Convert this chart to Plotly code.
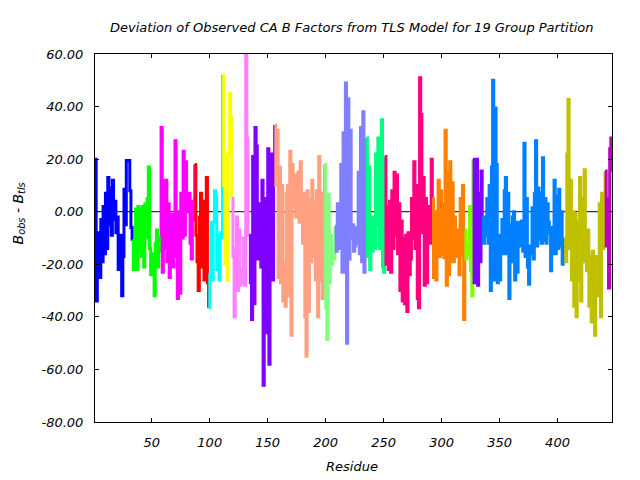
import plotly.graph_objects as go

# Group colours (19 TLS groups)
group_colors = ["#0000ff", "#00ff00", "#ff00ff", "#ff0000", "#00ffff", "#ffff00",
                "#ff80ff", "#8000ff", "#ffa080", "#80ff80", "#8080ff", "#00ff80",
                "#ff0080", "#ff8000", "#80ff00", "#8000ff", "#0080ff", "#c0c000",
                "#c000c0"]

# Deviation values per group (consecutive residues starting at 1)
g01 = [20, -34, -22, -8, -25, -3, -19, 2, -16, 7, -14, 13, -5, 9, -9, 12, -3, 4, -8, -2,
       -22, -12, -9, -32, -17, 8.5, -5, 19.5, 19.5, 19.5, 8, -6]
g02 = [-11, -22, -15, 1, -22, 2, -15, 1, -17, 2, -21, 3, -10, 5, 17, -14, -24, -18, -16,
       -32, -12, -7, -21, -15]
g03 = [-9, 32, -23, 12, -14, 12, -19, 3, -25, -1, -16, -21, -1, 27, -17, -33, 0, -31, 7,
       -10, 23, -9, 19, 7, 0, 7, -12, -18, 4, -3]
g04 = [18, -9, -19, -30, -2, 7, -21, 4, -26, -3, 13, -27]
g05 = [-36.5, -24, -4, -26, -4, 8, 6, -22, -9, -26, -8, -10]
g06 = [52, 10, -20, 22, -26, 22, 45, 36]
g07 = [5, -17, -40, -14, -2, -30, -7, -28, -22, -27, -10, -28, 60, 28, -9]
g08 = [-9, -27, -41, 21, -35, 32, 25, -18, 3, -10, -21, 12, -66, -35, 5, -46, 24, -58,
       -9, 22, -26, 20]
g09 = [33, 10, 31, -25, 17, -27, 10, -34, -20, -36, 7, 10, -32, 23, -47, 18, 2, 14, -2,
       12, 15, -4, 19, 3, -12, 7, -40, -55, 8, -38, 5, -19, 12, -17, 4, -26, 8, -40, 21,
       -26, 7, -33, 2]
g10 = [18, -36.5, -48.5, 6.6, -27, -9, -20, -16, -18]
g11 = [-5.5, -15, 3, -14, 2, 18, -23, 30, -23, 49, -50, 43, -18, 31, -10, -5, -15, -13,
       -6, -12, 15, -16, 32, -19, 38, -23, 6]
g12 = [28, -17, 17, -22, -2, -15, -2, -14, 22, -5, 28, -14, 20, 35, -21, -23]
g13 = [21, -20, 2, -22, 4, -23, 8, -14, 15, -9, 14, -16, 3, -30, -3.5, -34, -10, -35, -9,
       -38, -8, -24, -18, 5, -10, 19, -14, 10, -33, -36.5, 51, 37, -8, 13, -28, 5, -27,
       -5, 2, -12, 20]
g14 = [5, -25, 0, -26, -9, 12, -17, 8, -16, 3, -17.5, 31, -28, 15, -24, 19, -19, 11, -19,
       -2, -17, -14, -7, -24, 5, -16, 10, -41]
g15 = [-7, -18, -12, -16, 2, -22.6, -32]
g16 = [20, -27, 8, 20, -28, 7, -19, 15.5]
g17 = [-2, -12, -2, -9, 5, -12, 10, -30, 17, 50, -26, 39.5, 18, -27, -9, -26, -10, -3,
       -16, 8, 13, -16, 7, -33, -5, -19, -2, 0, -26, -4, -23, -9, -4, -13, -3.5, -15, 26,
       -17, 5, -21, -27.6, -13, -16, 1.5, -18, 7, 27, -13, 9, -10.5, 7, -12, 20.5, -11, 5,
       -12, 3, -4, -8, -22.5, -6, -16, 12, -16, 6, -14, 8.5, -13, 0, -20, -15]
g18 = [-10, -19, 22, 42.7, -14, 12, -26, 0, -36, -1, -40, -4, -26, 13, -34, 5, -19, 16,
       -7, -22.5, -7, -36, -17, -42, -15, -35, -47, -17, -32, -20, 3, -40, 7, -14, 3]
g19 = [15.5, -13, 5, -29, 24, 28, 15]

groups = [g01, g02, g03, g04, g05, g06, g07, g08, g09, g10, g11, g12, g13, g14, g15,
          g16, g17, g18, g19]

y_ticks = [-80, -60, -40, -20, 0, 20, 40, 60]
x_ticks = [50, 100, 150, 200, 250, 300, 350, 400]

FONT = "DejaVu Sans"

fig = go.Figure()
start = 1
for i, vals in enumerate(groups):
    xs = list(range(start, start + len(vals)))
    ys = list(vals)
    if i + 1 < len(groups):
        xs.append(start + len(vals))
        ys.append(groups[i + 1][0])
    fig.add_trace(go.Scatter(x=xs, y=ys, mode="lines",
                             line=dict(color=group_colors[i], width=3, shape="hv"),
                             showlegend=False, hoverinfo="skip"))
    start += len(vals)
last_res = start - 1

fig.add_shape(type="line", xref="paper", yref="y", x0=0, x1=1, y0=0, y1=0,
              line=dict(color="black", width=1), layer="below")

axis_common = dict(showline=True, linecolor="black", linewidth=1, mirror="ticks",
                   ticks="inside", ticklen=4, tickcolor="black", showgrid=False,
                   zeroline=False,
                   tickfont=dict(family=FONT, size=13, color="black", style="italic"))

fig.update_xaxes(range=[1, last_res], tickvals=x_ticks,
                 ticktext=[str(v) for v in x_ticks], ticklabelstandoff=8, **axis_common)
fig.update_yaxes(range=[-80, 60], tickvals=y_ticks,
                 ticktext=["%.2f" % v for v in y_ticks], ticklabelstandoff=8, **axis_common)

fig.add_annotation(text="Deviation of Observed CA B Factors from TLS Model for 19 Group Partition",
                   xref="paper", yref="paper", x=0.497, y=1.073, showarrow=False,
                   xanchor="center", yanchor="middle",
                   font=dict(family=FONT, size=13, color="black", style="italic"))
fig.add_annotation(text="Residue", xref="paper", yref="paper", x=0.497, y=-0.122,
                   showarrow=False, xanchor="center", yanchor="middle",
                   font=dict(family=FONT, size=13, color="black", style="italic"))
fig.add_annotation(text="B<sub>obs</sub> - B<sub>tls</sub>", xref="paper", yref="paper",
                   x=-0.148, y=0.568, showarrow=False, textangle=-90,
                   xanchor="center", yanchor="middle",
                   font=dict(family=FONT, size=14, color="black", style="italic"))

# page body adds an 8px offset, so the figure is 8px smaller and margins shifted
fig.update_layout(width=632, height=472, paper_bgcolor="white", plot_bgcolor="white",
                  margin=dict(l=87, r=28, t=46, b=58))

fig.write_html("out.html")
